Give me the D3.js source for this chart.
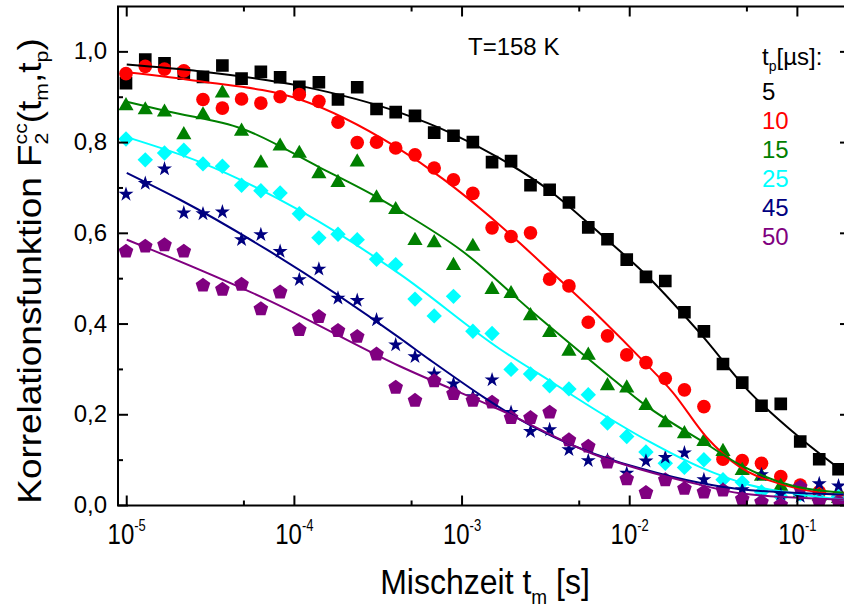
<!DOCTYPE html>
<html>
<head>
<meta charset="utf-8">
<script src="https://cdn.jsdelivr.net/npm/d3@7/dist/d3.min.js"></script>
<style>
  body { margin: 0; background: #fff; }
  svg { display: block; font-family: "Liberation Sans", Arial, sans-serif; }
</style>
</head>
<body>
<svg id="chart" width="844" height="612"></svg>
<script>
// Mixing times t_m [s] of the measured points
const mixTimes = [9.9e-6, 1.29e-5, 1.68e-5, 2.19e-5, 2.85e-5, 3.72e-5, 4.84e-5, 6.31e-5, 8.22e-5,
  1.07e-4, 1.40e-4, 1.82e-4, 2.37e-4, 3.09e-4, 4.02e-4, 5.24e-4, 6.82e-4, 8.89e-4,
  1.16e-3, 1.51e-3, 1.96e-3, 2.56e-3, 3.33e-3, 4.34e-3, 5.66e-3, 7.37e-3, 9.60e-3,
  1.25e-2, 1.63e-2, 2.12e-2, 2.77e-2, 3.60e-2, 4.69e-2, 6.11e-2, 7.96e-2, 0.104, 0.135, 0.176];

// Evolution times t_p [µs]
const tpLabels = ["5", "10", "15", "25", "45", "50"];
const tpColors = ["#000000", "#ff0000", "#008000", "#00ffff", "#000080", "#800080"];
const tpSymbols = ["square", "circle", "triangle", "diamond", "star", "pentagon"];

// Measured F2cc(t_m, t_p)
const f5 = [0.931, 0.983, 0.975, 0.952, 0.945, 0.970, 0.941, 0.956, 0.944, 0.923, 0.933, 0.895, 0.922,
  0.874, 0.867, 0.859, 0.822, 0.815, 0.801, 0.757, 0.759, 0.706, 0.696, 0.668, 0.613, 0.587, 0.542,
  0.504, 0.495, 0.426, 0.384, 0.312, 0.271, 0.220, 0.224, 0.141, 0.102, 0.080];
const f10 = [0.952, 0.968, 0.962, 0.958, 0.895, 0.876, 0.896, 0.887, 0.901, 0.906, 0.891, 0.845, 0.800,
  0.801, 0.788, 0.773, 0.744, 0.718, 0.688, 0.612, 0.593, 0.601, 0.499, 0.484, 0.404, 0.374, 0.332,
  0.315, 0.280, 0.255, 0.218, 0.102, 0.099, 0.093, 0.064, 0.045, 0.030, 0.020];
const f15 = [0.881, 0.872, 0.867, 0.817, 0.861, 0.909, 0.825, 0.755, 0.792, 0.776, 0.731, 0.712, 0.757,
  0.678, 0.652, 0.584, 0.579, 0.529, 0.571, 0.476, 0.467, 0.418, 0.381, 0.340, 0.331, 0.264, 0.259,
  0.220, 0.182, 0.158, 0.141, 0.119, 0.077, 0.064, 0.042, 0.028, 0.020, 0.015];
const f25 = [0.808, 0.762, 0.777, 0.783, 0.753, 0.748, 0.706, 0.694, 0.689, 0.643, 0.590, 0.598, 0.586,
  0.543, 0.531, 0.455, 0.418, 0.461, 0.384, 0.379, 0.300, 0.290, 0.264, 0.257, 0.244, 0.182, 0.152,
  0.118, 0.093, 0.084, 0.101, 0.057, 0.051, 0.030, 0.020, 0.025, 0.015, 0.020];
const f45 = [0.686, 0.710, 0.742, 0.645, 0.643, 0.647, 0.586, 0.597, 0.560, 0.498, 0.521, 0.457, 0.452,
  0.409, 0.354, 0.328, 0.290, 0.268, 0.240, 0.277, 0.205, 0.163, 0.167, 0.123, 0.099, 0.100, 0.071,
  0.098, 0.106, 0.116, 0.057, 0.035, 0.035, 0.068, 0.025, 0.020, 0.048, 0.043];
const f50 = [0.562, 0.573, 0.576, 0.562, 0.487, 0.478, 0.489, 0.435, 0.472, 0.389, 0.418, 0.387, 0.374,
  0.335, 0.262, 0.233, 0.276, 0.248, 0.233, 0.229, 0.195, 0.195, 0.207, 0.146, 0.132, 0.097, 0.060,
  0.030, 0.058, 0.039, 0.031, 0.035, 0.016, 0.009, 0.003, 0.042, 0.010, 0.010];

// Fit curves, [t_m, F] pairs
const fit5 = [[1e-5, 0.972], [2.74e-5, 0.957], [1.08e-4, 0.925], [4.26e-4, 0.866], [8.46e-4, 0.822],
  [1.68e-3, 0.765], [3.33e-3, 0.694], [6.62e-3, 0.600], [1.32e-2, 0.500], [2.61e-2, 0.381],
  [5.19e-2, 0.250], [0.103, 0.150], [0.189, 0.074]];
const fit10 = [[1e-5, 0.955], [2.74e-5, 0.935], [1.08e-4, 0.895], [3.97e-4, 0.792], [7.69e-4, 0.720],
  [1.68e-3, 0.618], [3.33e-3, 0.518], [6.62e-3, 0.415], [1.23e-2, 0.315], [1.80e-2, 0.250],
  [2.88e-2, 0.150], [4.53e-2, 0.085], [8.17e-2, 0.046], [0.189, 0.022]];
const fit15 = [[1e-5, 0.890], [1.74e-5, 0.869], [4.93e-5, 0.830], [1.42e-4, 0.745], [3.1e-4, 0.680],
  [4.26e-4, 0.650], [1.01e-3, 0.560], [2.57e-3, 0.430], [7.29e-3, 0.290], [1.15e-2, 0.230],
  [2.88e-2, 0.135], [4.53e-2, 0.090], [9.0e-2, 0.045], [0.189, 0.028]];
const fit25 = [[1e-5, 0.812], [2.74e-5, 0.757], [1.08e-4, 0.650], [4.26e-4, 0.510], [1.68e-3, 0.345],
  [3.33e-3, 0.275], [6.62e-3, 0.205], [1.32e-2, 0.140], [2.61e-2, 0.085], [5.19e-2, 0.045],
  [0.103, 0.025], [0.189, 0.013]];
const fit45 = [[1e-5, 0.733], [1.32e-5, 0.711], [2.08e-5, 0.674], [6.86e-5, 0.564], [4.26e-4, 0.369],
  [6.43e-4, 0.321], [2.64e-3, 0.174], [8.37e-3, 0.097], [1.15e-2, 0.082], [2.61e-2, 0.050],
  [4.53e-2, 0.036], [0.189, 0.024]];
const fit50 = [[1e-5, 0.586], [1.32e-5, 0.568], [6.86e-5, 0.454], [4.26e-4, 0.307], [1.68e-3, 0.211],
  [6.62e-3, 0.108], [1.15e-2, 0.080], [2.61e-2, 0.046], [4.53e-2, 0.027], [0.189, 0.013]];

// Axis ticks
const xMajor = [1e-5, 1e-4, 1e-3, 1e-2, 1e-1];
const xMinor = [5e-5, 5e-4, 5e-3, 5e-2];
const xExponents = ["-5", "-4", "-3", "-2", "-1"];
const yMajor = [0, 0.2, 0.4, 0.6, 0.8, 1.0];
const yMinor = [0.1, 0.3, 0.5, 0.7, 0.9];

const measured = [f5, f10, f15, f25, f45, f50];
const fits = [fit5, fit10, fit15, fit25, fit45, fit50];

const svg = d3.select("#chart");
const plotLeft = 118, plotRight = 850, plotTop = 6.5, plotBottom = 505.5;

const x = d3.scaleLog().domain([8.87e-6, 0.206]).range([plotLeft, plotRight]);
const y = d3.scaleLinear().domain([0, 1.1]).range([plotBottom, plotTop]);

svg.append("defs").append("clipPath").attr("id", "plotClip")
  .append("rect").attr("x", plotLeft).attr("y", plotTop)
  .attr("width", plotRight - plotLeft).attr("height", plotBottom - plotTop);

// marker shapes
function pentagonPath(r) {
  const pts = d3.range(5).map(k => {
    const a = -Math.PI / 2 + k * 2 * Math.PI / 5;
    return [r * Math.cos(a), r * Math.sin(a) + r * 0.1];
  });
  return "M" + pts.map(p => p.join(",")).join("L") + "Z";
}
const markerPath = {
  square: d3.symbol(d3.symbolSquare, 160)(),
  circle: d3.symbol(d3.symbolCircle, 146)(),
  triangle: d3.symbol(d3.symbolTriangle, 100)(),
  diamond: "M0,-7.7L7.7,0L0,7.7L-7.7,0Z",
  star: d3.symbol(d3.symbolStar, 70)(),
  pentagon: pentagonPath(7.7)
};

const plot = svg.append("g").attr("clip-path", "url(#plotClip)");

// measured points
measured.forEach((vals, si) => {
  plot.append("g")
    .selectAll("path")
    .data(vals.map((v, i) => [mixTimes[i], v]))
    .join("path")
    .attr("d", markerPath[tpSymbols[si]])
    .attr("transform", d => `translate(${x(d[0])},${y(d[1])})`)
    .attr("fill", tpColors[si]);
});

// fit curves
const line = d3.line().x(d => x(d[0])).y(d => y(d[1])).curve(d3.curveMonotoneX);
fits.forEach((pts, si) => {
  plot.append("path")
    .attr("d", line(pts))
    .attr("fill", "none")
    .attr("stroke", tpColors[si])
    .attr("stroke-width", 2);
});

// axes: ticks on all four sides pointing inward
const axisG = svg.append("g").attr("stroke", "#000").attr("stroke-width", 2);
function ticks(vals, len, orient) {
  vals.forEach(v => {
    if (orient === "x") {
      const px = x(v);
      axisG.append("line").attr("x1", px).attr("x2", px).attr("y1", plotBottom).attr("y2", plotBottom - len);
      axisG.append("line").attr("x1", px).attr("x2", px).attr("y1", plotTop).attr("y2", plotTop + len);
    } else {
      const py = y(v);
      axisG.append("line").attr("x1", plotLeft).attr("x2", plotLeft + len).attr("y1", py).attr("y2", py);
      axisG.append("line").attr("x1", plotRight).attr("x2", plotRight - len).attr("y1", py).attr("y2", py);
    }
  });
}
ticks(xMajor, 10, "x");
ticks(xMinor, 5, "x");
ticks(yMajor, 10, "y");
ticks(yMinor, 5, "y");
axisG.append("rect").attr("x", plotLeft).attr("y", plotTop)
  .attr("width", plotRight - plotLeft).attr("height", plotBottom - plotTop)
  .attr("fill", "none");

// y tick labels with decimal comma
const fmt = d3.formatLocale({ decimal: ",", thousands: ".", grouping: [3], currency: ["", "€"] }).format(".1f");
svg.append("g").selectAll("text").data(yMajor).join("text")
  .attr("x", 107).attr("y", d => y(d) + 7.5)
  .attr("text-anchor", "end").attr("font-size", 24).attr("fill", "#000")
  .text(d => fmt(d));

// x tick labels as powers of ten
xMajor.forEach((v, i) => {
  const t = svg.append("text")
    .attr("transform", `translate(${x(v)},544) scale(1,1.2)`)
    .attr("text-anchor", "middle").attr("font-size", 24).attr("fill", "#000");
  t.append("tspan").text("10");
  t.append("tspan").attr("font-size", 13).attr("dy", -10.5).text(xExponents[i]);
});

// x axis title
const xt = svg.append("text")
  .attr("transform", "translate(485,594) scale(1,1.08)")
  .attr("text-anchor", "middle").attr("font-size", 32).attr("fill", "#000");
xt.append("tspan").text("Mischzeit t");
xt.append("tspan").attr("font-size", 19).attr("dy", 9).text("m");
xt.append("tspan").attr("dy", -9).text(" [s]");

// y axis title
const yt = svg.append("text")
  .attr("transform", "translate(41,271) rotate(-90) scale(1.12,1)")
  .attr("text-anchor", "middle").attr("font-size", 33).attr("fill", "#000");
yt.append("tspan").text("Korrelationsfunktion F");
yt.append("tspan").attr("font-size", 19).attr("dy", 7).text("2");
yt.append("tspan").attr("font-size", 19).attr("dx", -10.6).attr("dy", -21).text("cc");
yt.append("tspan").attr("dy", 14).text("(t");
yt.append("tspan").attr("font-size", 19).attr("dy", 7).text("m");
yt.append("tspan").attr("dy", -7).text(",t");
yt.append("tspan").attr("font-size", 19).attr("dy", 7).text("p");
yt.append("tspan").attr("dy", -7).text(")");

// temperature note
svg.append("text").attr("x", 468).attr("y", 55).attr("font-size", 24).attr("fill", "#000").text("T=158 K");

// legend of evolution times
const lg = svg.append("text").attr("x", 762).attr("y", 65).attr("font-size", 24).attr("fill", "#000");
lg.append("tspan").text("t");
lg.append("tspan").attr("font-size", 14).attr("dy", 6).text("p");
lg.append("tspan").attr("dy", -6).text("[µs]:");
svg.append("g").selectAll("text").data(tpLabels).join("text")
  .attr("x", 762).attr("y", (d, i) => 99.5 + i * 29.1)
  .attr("font-size", 24)
  .attr("fill", (d, i) => tpColors[i])
  .text(d => d);
</script>
</body>
</html>
